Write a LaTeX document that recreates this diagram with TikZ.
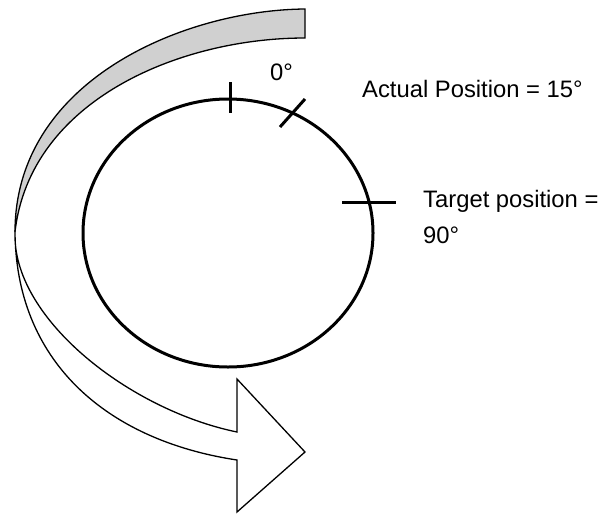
\documentclass[tikz,border=0pt]{standalone}
\usepackage{fontspec}
\setmainfont{Liberation Sans}
\definecolor{bandgray}{RGB}{208,208,208}
\begin{document}
\begin{tikzpicture}[x=1pt,y=-1pt,
  band/.style={draw=black, line width=1.3pt, line join=miter},
  dial/.style={draw=black, line width=3pt},
  tickmark/.style={draw=black, line width=3pt},
  lbl/.style={inner sep=0pt, anchor=base west, font=\fontsize{23.8}{36}\selectfont}]
\useasboundingbox (0,0) rectangle (604,514);
% back (grey) part of the curved arrow
\filldraw[band, fill=bandgray]
  (305,9) .. controls (185,10) and (15,80) .. (15,232)
  .. controls (30,100) and (180,38) .. (305,38) -- cycle;
% front (white) part with arrow head
\filldraw[band, fill=white]
  (15,230) .. controls (15,360) and (105,440) .. (237,460)
  -- (237,512) -- (305,452) -- (237,379) -- (237,432)
  .. controls (130,410) and (15,320) .. (15,236) -- cycle;
% dial
\draw[dial] (228,233) ellipse [x radius=145pt, y radius=134pt];
\coordinate (t0a) at (230,82);  \coordinate (t0b) at (230,113);
\coordinate (t15a) at (280,127); \coordinate (t15b) at (305,99);
\coordinate (t90a) at (342,202); \coordinate (t90b) at (396,202);
\draw[tickmark] (t0a) -- (t0b);
\draw[tickmark] (t15a) -- (t15b);
\draw[tickmark] (t90a) -- (t90b);
% labels
\node[lbl] (zero) at (270,80) {0°};
\node[lbl] (actual) at (362,97) {Actual Position = 15°};
\node[lbl] (target1) at (423,207) {Target position =};
\node[lbl] (target2) at (423,243) {90°};
\end{tikzpicture}
\end{document}
